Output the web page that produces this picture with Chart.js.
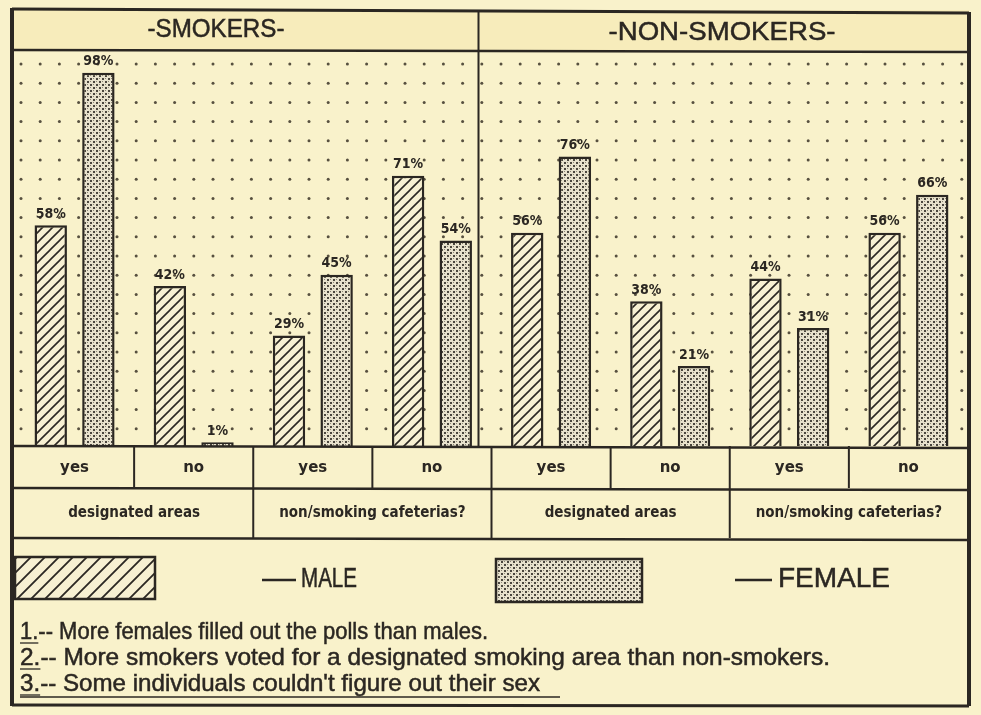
<!DOCTYPE html>
<html>
<head>
<meta charset="utf-8">
<script src="https://cdn.jsdelivr.net/npm/chart.js@4.4.0/dist/chart.umd.min.js"></script>
<style>
  html, body { margin: 0; padding: 0; background: #f9f2cb; overflow: hidden; }
  canvas { display: block; }
</style>
</head>
<body>
<canvas id="myChart" width="981" height="715"></canvas>
<script>
//////////////////////////// DATA ////////////////////////////
const panels = ["-SMOKERS-", "-NON-SMOKERS-"];
const questions = ["designated areas", "non/smoking cafeterias?"];
const answers = ["yes", "no"];
const seriesNames = ["MALE", "FEMALE"];
// one value per panel / question / answer, left to right
const maleValues = [58, 42, 29, 71, 56, 38, 44, 56];
const femaleValues = [98, 1, 45, 54, 76, 21, 31, 66];
const notes = [
  ["1.", "-- More females filled out the polls than males."],
  ["2.", "-- More smokers voted for a designated smoking area than non-smokers."],
  ["3.", "-- Some individuals couldn't figure out their sex"]
];

const categories = [];
panels.forEach((p) => questions.forEach((q) => answers.forEach((a) => categories.push(p + " " + q + " " + a))));

//////////////////////////// PATTERNS ////////////////////////////
const ink = "#2b2722";
const paper = "#f9f2cb";

function makeHatch(size, lw) {
  const t = document.createElement("canvas");
  t.width = size; t.height = size;
  const c = t.getContext("2d");
  c.fillStyle = "#f7f0d2";
  c.fillRect(0, 0, size, size);
  c.strokeStyle = ink;
  c.lineWidth = lw;
  c.beginPath();
  c.moveTo(0, size); c.lineTo(size, 0);
  c.moveTo(-size / 2, size / 2); c.lineTo(size / 2, -size / 2);
  c.moveTo(size / 2, size * 1.5); c.lineTo(size * 1.5, size / 2);
  c.stroke();
  return c.createPattern(t, "repeat");
}

function makeStipple() {
  const t = document.createElement("canvas");
  t.width = 6; t.height = 6;
  const c = t.getContext("2d");
  c.fillStyle = "#e8e2cd";
  c.fillRect(0, 0, 6, 6);
  c.fillStyle = "#4a463e";
  c.fillRect(0, 0, 2, 2);
  c.fillRect(3, 3, 2, 2);
  c.fillStyle = "#8c8676";
  c.fillRect(3, 0, 1, 1);
  c.fillRect(0, 3, 1, 1);
  return c.createPattern(t, "repeat");
}

const hatch = makeHatch(10, 1.6);
const hatchBig = makeHatch(14, 1.8);
const stipple = makeStipple();

//////////////////////////// HELPERS ////////////////////////////
// squeeze or stretch a text run to the width it has on the scanned page
function fitText(c, text, x, y, width, align) {
  const w = c.measureText(text).width;
  const sx = width / w;
  c.save();
  c.translate(x, y);
  c.scale(sx, 1);
  c.textAlign = "left";
  let ox = 0;
  if (align === "center") ox = -w / 2;
  c.fillText(text, ox, 0);
  c.lineWidth = 0.5;
  c.strokeText(text, ox, 0);
  c.restore();
}

function line(c, x1, y1, x2, y2, w) {
  c.lineWidth = w;
  c.beginPath();
  c.moveTo(x1, y1);
  c.lineTo(x2, y2);
  c.stroke();
}

//////////////////////////// PLUGIN ////////////////////////////
const paperChart = {
  id: "paperChart",
  beforeDraw(chart) {
    const c = chart.ctx;
    c.save();
    c.fillStyle = paper;
    c.fillRect(0, 0, chart.width, chart.height);
    c.fillStyle = "#f7ecbb";
    c.fillRect(13, 10, 956, 40);
    c.restore();
  },
  beforeDatasetsDraw(chart) {
    // dotted grid
    const a = chart.chartArea;
    const c = chart.ctx;
    c.save();
    c.fillStyle = "#57503f";
    for (let y = a.top + 14; y < a.bottom - 2; y += 19.2) {
      for (let x = a.left + 6; x < a.right - 2; x += 19.2) {
        c.beginPath();
        c.arc(x, y, 1.5, 0, Math.PI * 2);
        c.fill();
      }
    }
    c.restore();
  },
  afterDatasetsDraw(chart) {
    const c = chart.ctx;
    c.save();
    c.fillStyle = ink;
    c.font = "bold 14px 'DejaVu Sans Condensed', 'DejaVu Sans', sans-serif";
    c.textAlign = "center";
    c.textBaseline = "bottom";
    chart.data.datasets.forEach((ds, di) => {
      chart.getDatasetMeta(di).data.forEach((bar, i) => {
        c.fillText(ds.data[i] + "%", bar.x, bar.y - 4);
      });
    });
    c.restore();
  },
  afterDraw(chart) {
    const c = chart.ctx;
    const a = chart.chartArea;
    const xs = chart.scales.x;
    const n = categories.length;
    const cw = (a.right - a.left) / n;
    const rowY1 = a.bottom + 42;
    const rowY2 = a.bottom + 92;
    c.save();
    c.strokeStyle = ink;
    c.fillStyle = ink;

    // outer frame
    line(c, 12, 8, 12, 706, 4);
    line(c, 969, 12, 969, 706, 4);
    line(c, 12, 9, 969, 13, 3);
    line(c, 12, 705, 969, 706, 3);
    // header
    line(c, 12, a.top, 969, a.top + 2, 2.5);
    const mid = a.left + cw * 4;
    line(c, mid - 13, 10, mid - 13, a.bottom, 2);
    // category rows
    line(c, 12, a.bottom, 969, a.bottom + 2, 2.5);
    line(c, 12, rowY1, 969, rowY1 + 2, 2.5);
    line(c, 12, rowY2, 969, rowY2 + 2, 2.5);
    for (let i = 1; i < n; i++) {
      const x = a.left + cw * i;
      line(c, x, a.bottom, x, i % 2 === 0 ? rowY2 : rowY1, 2);
    }

    // header text
    c.textBaseline = "middle";
    c.font = "26px 'Liberation Sans', Arial, sans-serif";
    fitText(c, panels[0], 216, 30, 137, "center");
    fitText(c, panels[1], 722, 33, 227, "center");

    // answers and questions
    c.font = "bold 15px 'DejaVu Sans', sans-serif";
    c.textAlign = "center";
    categories.forEach((cat, i) => {
      const x = xs.getPixelForValue(i);
      c.fillText(answers[i % 2], x, a.bottom + 22);
    });
    for (let g = 0; g < n / 2; g++) {
      const x = a.left + cw * (g * 2 + 1);
      c.font = "bold 15px 'DejaVu Sans Condensed', 'DejaVu Sans', sans-serif";
      c.fillText(questions[g % 2], x, a.bottom + 67);
    }

    // legend
    c.fillStyle = hatchBig;
    c.fillRect(15, 557, 140, 42);
    c.lineWidth = 2.5;
    c.strokeRect(15, 557, 140, 42);
    c.fillStyle = stipple;
    c.fillRect(496, 559, 146, 43);
    c.lineWidth = 2.5;
    c.strokeRect(496, 559, 146, 43);
    c.fillStyle = ink;
    line(c, 262, 580, 296, 580, 2.5);
    line(c, 735, 580, 772, 580, 2.5);
    c.font = "27px 'Liberation Sans', Arial, sans-serif";
    c.textBaseline = "middle";
    fitText(c, seriesNames[0], 301, 580, 56, "left");
    fitText(c, seriesNames[1], 778, 580, 112, "left");

    // notes
    c.font = "24px 'Liberation Sans', Arial, sans-serif";
    const widths = [468, 810, 520];
    notes.forEach((nt, i) => {
      const y = 632 + i * 26;
      fitText(c, nt[0] + nt[1], 20, y, widths[i], "left");
      const nw = c.measureText(nt[0]).width * (widths[i] / c.measureText(nt[0] + nt[1]).width);
      line(c, 20, y + 11, 20 + nw, y + 11, 1.3);
    });
    line(c, 20, 697, 560, 697, 1.3);
    c.restore();
  }
};

//////////////////////////// CHART ////////////////////////////
const config = {
  type: "bar",
  data: {
    labels: categories,
    datasets: [
      { label: seriesNames[0], data: maleValues, backgroundColor: hatch, borderColor: ink, borderWidth: 2.5 },
      { label: seriesNames[1], data: femaleValues, backgroundColor: stipple, borderColor: ink, borderWidth: 2.5 }
    ]
  },
  options: {
    responsive: false,
    devicePixelRatio: 1,
    animation: false,
    layout: { padding: { left: 15, right: 13, top: 50, bottom: 269 } },
    datasets: { bar: { categoryPercentage: 0.8, barPercentage: 0.68 } },
    plugins: { legend: { display: false }, tooltip: { enabled: false } },
    scales: {
      x: { display: false },
      y: { display: false, min: 0, max: 104 }
    }
  },
  plugins: [paperChart]
};

const myChart = new Chart(document.getElementById("myChart"), config);
</script>
</body>
</html>
